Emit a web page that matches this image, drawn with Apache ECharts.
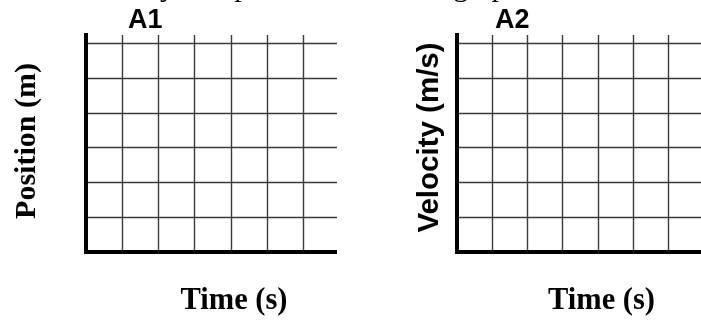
<!DOCTYPE html>
<html>
<head>
<meta charset="utf-8">
<script src="https://cdn.jsdelivr.net/npm/echarts@6/dist/echarts.min.js"></script>
<style>
  html, body { margin: 0; padding: 0; background: #fff; }
  #chart { width: 701px; height: 322px; }
</style>
</head>
<body>
<div id="chart"></div>
<script>
// Panel labels and axis captions, one entry per blank graph
const panelLabels = ['A1', 'A2'];
const yAxisTitles = ['Position (m)', 'Velocity (m/s)'];
const xAxisTitles = ['Time (s)', 'Time (s)'];
// Extent of each blank grid, in grid units, and the spacing of its ruled lines
const timeRange = [0, 6.93];
const valueRange = [0, 6.24];
const gridStep = [1, 1];
// Instruction line above the graphs (only its lowest strokes fall on the page)
const instruction = 'Read the motion described above, then carefully complete both motion graphs.';

const SERIF = '"Liberation Serif", "Times New Roman", serif';
const SANS = '"Liberation Sans", Arial, sans-serif';

const gridLefts = [86, 457];
const labelLefts = [128, 495];
const yTitleFonts = [
  { fontFamily: SERIF, fontWeight: 'bold', fontSize: 30, gap: 44, shift: 5 },
  { fontFamily: SANS, fontWeight: 'bold', fontSize: 29.5, gap: 12, shift: 12 }
];
const ruleStyle = { color: '#3a3a3a', width: 1.4 };

const chart = echarts.init(document.getElementById('chart'), null, { renderer: 'canvas' });

// Place the instruction so the "y" of "carefully" starts at x = 160
const ctx = document.createElement('canvas').getContext('2d');
ctx.font = '30px ' + SERIF;
const lead = instruction.slice(0, instruction.indexOf('carefully') + 'carefull'.length);
const instructionX = 160 - ctx.measureText(lead).width;

const grids = [], xAxes = [], yAxes = [], titles = [];
panelLabels.forEach((label, i) => {
  grids.push({ left: gridLefts[i], top: 35, width: 251, height: 218, containLabel: false });
  xAxes.push({
    gridIndex: i,
    type: 'value',
    min: timeRange[0],
    max: timeRange[1],
    interval: gridStep[0],
    axisLine: { show: true, onZero: false, lineStyle: { color: '#000', width: 4, cap: 'butt' } },
    axisTick: { show: false },
    axisLabel: { show: false },
    splitLine: { show: true, showMinLine: false, showMaxLine: false, lineStyle: ruleStyle },
    name: xAxisTitles[i],
    nameLocation: 'middle',
    nameGap: 34,
    nameTextStyle: {
      fontFamily: SERIF, fontWeight: 'bold', fontSize: 30.5, color: '#000',
      padding: [0, 0, 0, 45]
    }
  });
  const yf = yTitleFonts[i];
  yAxes.push({
    gridIndex: i,
    type: 'value',
    min: valueRange[0],
    max: valueRange[1],
    interval: gridStep[1],
    axisLine: { show: true, onZero: false, lineStyle: { color: '#000', width: 4, cap: 'square' } },
    axisTick: { show: false },
    axisLabel: { show: false },
    splitLine: { show: true, showMinLine: false, showMaxLine: false, lineStyle: ruleStyle },
    name: yAxisTitles[i],
    nameLocation: 'middle',
    nameRotate: 90,
    nameGap: yf.gap,
    nameTextStyle: {
      fontFamily: yf.fontFamily, fontWeight: yf.fontWeight, fontSize: yf.fontSize, color: '#000',
      padding: [0, 0, 0, yf.shift]
    }
  });
  titles.push({
    text: label,
    left: labelLefts[i],
    top: 7,
    padding: 0,
    textStyle: { fontFamily: SANS, fontWeight: 'bold', fontSize: 27, color: '#000' }
  });
});

chart.setOption({
  backgroundColor: '#fff',
  animation: false,
  title: titles,
  grid: grids,
  xAxis: xAxes,
  yAxis: yAxes,
  series: [],
  graphic: [{
    type: 'text',
    left: instructionX,
    top: -27,
    silent: true,
    style: { text: instruction, font: '30px ' + SERIF, fill: '#000' }
  }]
});
</script>
</body>
</html>
